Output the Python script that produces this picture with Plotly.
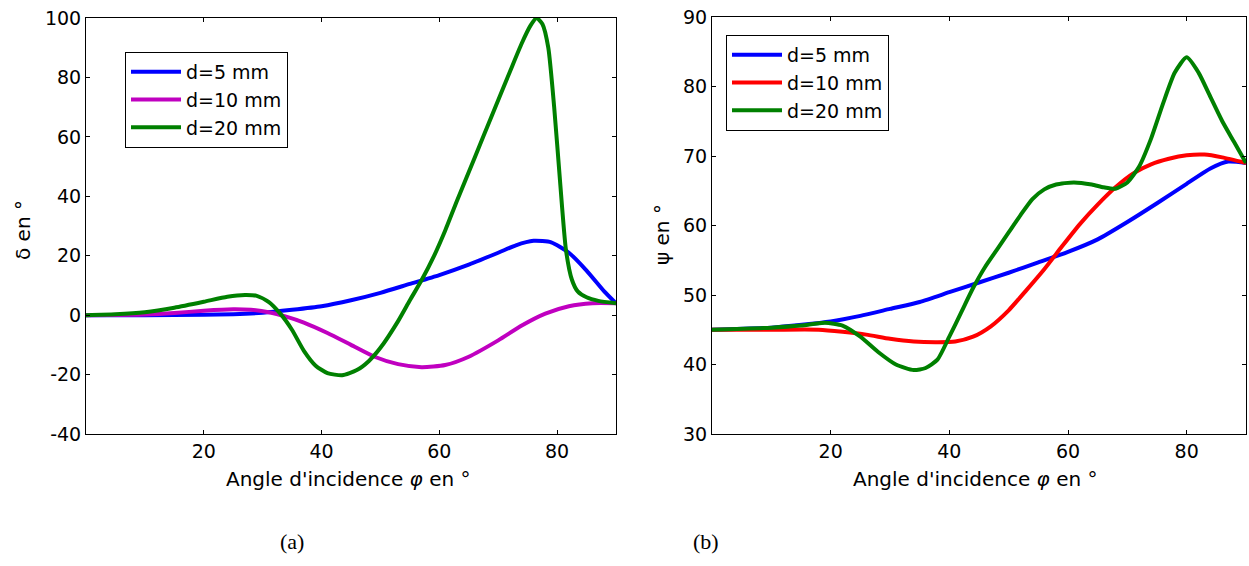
import plotly.graph_objects as go

# ---------------- data: (a) delta ----------------
a_blue_x = [0, 10, 20, 25, 30, 35, 40, 45, 50, 55, 60, 65, 70, 73, 76, 79, 82, 85, 88, 90]
a_blue_y = [0, 0, 0.1, 0.3, 0.8, 1.8, 3, 5, 7.5, 10.5, 13.5, 17, 21, 23.5, 25, 24.5, 21, 15, 8, 4]

a_mag_x = [0, 10, 15, 20, 25, 28, 31, 34, 37, 41, 45, 49, 53, 57, 61, 65, 70, 74, 78, 82, 86, 90]
a_mag_y = [0, 0.2, 0.7, 1.5, 2, 1.8, 1, -0.5, -2.5, -6, -10, -14, -16.5, -17.5, -16.8, -14, -8.5, -3.5, 0.5, 3, 4, 4]

a_grn_x = [0, 5, 10, 15, 20, 24, 27, 29, 31, 33, 35, 37, 39, 41, 43.5, 46, 48, 50, 53, 55, 57, 59, 61,
           63, 66, 69, 72, 74, 75.5, 76.5, 77.5, 78.5, 79.5, 80.5, 81.5, 82.5, 83.5, 85, 87, 90]
a_grn_y = [0, 0.3, 1, 2.5, 4.5, 6.2, 6.8, 6.5, 4.5, 0.5, -5, -12, -17, -19.5, -20.2, -18.5, -15.5, -11, -2, 5, 11.8, 19.5, 28.5,
           38.5, 53, 67.5, 82, 91.5, 97.5, 100, 98, 90, 70, 45, 22, 12, 8, 6, 4.8, 4]

# ---------------- data: (b) psi ----------------
b_blue_x = [0, 10, 20, 25, 30, 35, 40, 45, 50, 55, 60, 65, 70, 75, 80, 84, 87, 90]
b_blue_y = [45, 45.3, 46.2, 47, 48, 49, 50.4, 51.8, 53.2, 54.7, 56.2, 58, 60.5, 63.2, 66, 68.2, 69.2, 69]

b_red_x = [0, 10, 18, 22, 26, 30, 34, 38, 41, 44, 47, 50, 53, 56, 59, 62, 65, 68, 71, 74, 77, 80, 83, 86, 90]
b_red_y = [45, 45, 45, 44.7, 44.3, 43.7, 43.3, 43.2, 43.3, 44, 45.5, 47.8, 50.7, 53.7, 57, 60.2, 63, 65.5, 67.5,
           68.8, 69.6, 70.1, 70.2, 69.8, 69]

b_grn_x = [0, 10, 15, 19, 22, 25, 28, 31, 34, 36, 38, 40, 42, 44, 46, 48, 50, 52, 54, 56, 58, 61, 64, 66, 68,
           70, 72, 74, 76, 78, 80, 82, 84, 86, 88, 90]
b_grn_y = [45, 45.3, 45.6, 46, 45.6, 44, 41.8, 40, 39.2, 39.5, 40.7, 44, 47.5, 51, 54, 56.5, 59, 61.5, 63.8, 65.2,
           65.9, 66.2, 65.9, 65.5, 65.3, 66.2, 68.5, 72.5, 77.5, 82, 84.2, 82, 78.5, 75, 72, 69]

labels = ["d=5 mm", "d=10 mm", "d=20 mm"]
x_ticks = [20, 40, 60, 80]
a_yticks = [-40, -20, 0, 20, 40, 60, 80, 100]
b_yticks = [30, 40, 50, 60, 70, 80, 90]

BLUE, MAG, RED, GRN = "#0000FF", "#C000C0", "#FF0000", "#008000"
LW = 4
FONT = "DejaVu Sans, Liberation Sans, Arial, sans-serif"

fig = go.Figure()

def add(x, y, name, color, xa, ya, legend):
    fig.add_trace(go.Scatter(x=x, y=y, name=name, mode="lines",
                             line=dict(color=color, width=LW, shape="spline", smoothing=0.6),
                             xaxis=xa, yaxis=ya, legend=legend))

add(a_blue_x, a_blue_y, labels[0], BLUE, "x", "y", "legend")
add(a_mag_x, a_mag_y, labels[1], MAG, "x", "y", "legend")
add(a_grn_x, a_grn_y, labels[2], GRN, "x", "y", "legend")
add(b_blue_x, b_blue_y, labels[0], BLUE, "x2", "y2", "legend2")
add(b_red_x, b_red_y, labels[1], RED, "x2", "y2", "legend2")
add(b_grn_x, b_grn_y, labels[2], GRN, "x2", "y2", "legend2")

W, H = 1249, 566
def px(v): return min(1.0, max(0.0, v / W))
def py(v): return min(1.0, max(0.0, 1 - v / H))

def ticktext(vals): return [str(v) for v in vals]

axis_common = dict(showline=True, linecolor="black", linewidth=1, mirror="ticks", ticks="inside",
                   ticklen=4, tickcolor="black", showgrid=False, zeroline=False, automargin=False,
                   ticklabeloverflow="allow",
                   tickfont=dict(family=FONT, size=19, color="black"))

legend_common = dict(bgcolor="white", bordercolor="black", borderwidth=1,
                     font=dict(family=FONT, size=19, color="black"),
                     xanchor="left", yanchor="top", tracegroupgap=0, itemwidth=50)

fig.update_layout(
    width=W, height=H, margin=dict(l=0, r=0, t=0, b=0, autoexpand=False),
    paper_bgcolor="white", plot_bgcolor="white", showlegend=True,
    xaxis=dict(domain=[px(86), px(616)], range=[0, 90], tickvals=x_ticks, ticktext=ticktext(x_ticks),
               anchor="y", **axis_common),
    yaxis=dict(domain=[py(434), py(18)], range=[-40, 100], tickvals=a_yticks, ticktext=ticktext(a_yticks),
               anchor="x", **axis_common),
    xaxis2=dict(domain=[px(712), px(1246)], range=[0, 90], tickvals=x_ticks, ticktext=ticktext(x_ticks),
                anchor="y2", **axis_common),
    yaxis2=dict(domain=[py(434), py(17)], range=[30, 90], tickvals=b_yticks, ticktext=ticktext(b_yticks),
                anchor="x2", **axis_common),
    legend=dict(x=px(125), y=py(52), **legend_common),
    legend2=dict(x=px(726), y=py(35), **legend_common),
)

ann_font = dict(family=FONT, size=20, color="black")
fig.add_annotation(text="Angle d'incidence <i>φ</i> en °", x=px(348), y=py(479), xref="paper", yref="paper",
                   showarrow=False, font=ann_font, xanchor="center", yanchor="middle")
fig.add_annotation(text="Angle d'incidence <i>φ</i> en °", x=px(975), y=py(479), xref="paper", yref="paper",
                   showarrow=False, font=ann_font, xanchor="center", yanchor="middle")
fig.add_annotation(text="δ en °", x=px(23), y=py(230), xref="paper", yref="paper", textangle=-90,
                   showarrow=False, font=ann_font, xanchor="center", yanchor="middle")
fig.add_annotation(text="ψ en °", x=px(662), y=py(235), xref="paper", yref="paper", textangle=-90,
                   showarrow=False, font=ann_font, xanchor="center", yanchor="middle")
cap_font = dict(family="Liberation Serif, DejaVu Serif, serif", size=22, color="black")
fig.add_annotation(text="(a)", x=px(292), y=py(541), xref="paper", yref="paper",
                   showarrow=False, font=cap_font, xanchor="center", yanchor="middle")
fig.add_annotation(text="(b)", x=px(706), y=py(541), xref="paper", yref="paper",
                   showarrow=False, font=cap_font, xanchor="center", yanchor="middle")

fig.write_html("out.html", config={"displayModeBar": False},
               post_script="document.body.style.margin='0';document.body.style.overflow='hidden';")
